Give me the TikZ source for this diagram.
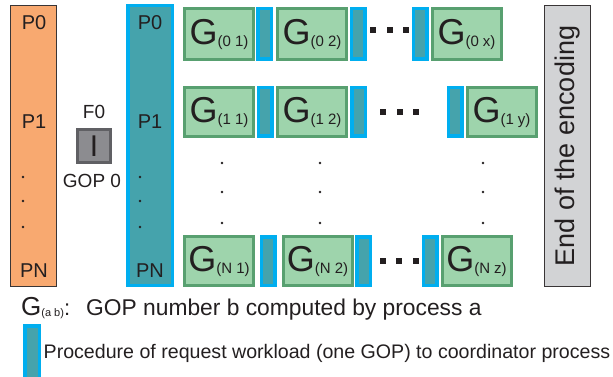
\documentclass[tikz,border=0pt]{standalone}
\usepackage{fontspec}
\setmainfont{Liberation Sans}
\usetikzlibrary{positioning}
\definecolor{ink}{RGB}{35,31,32}
\definecolor{orfill}{RGB}{248,169,112}
\definecolor{tlfill}{RGB}{69,163,172}
\definecolor{cyline}{RGB}{0,174,239}
\definecolor{gfill}{RGB}{158,212,172}
\definecolor{gline}{RGB}{88,160,112}
\definecolor{ifill}{RGB}{140,140,144}
\definecolor{iline}{RGB}{96,96,100}
\definecolor{endfill}{RGB}{210,211,213}
\newcommand{\gsub}[1]{{\fontsize{36}{36}\selectfont G}\raisebox{-2pt}{\fontsize{15}{15}\selectfont(#1)}}

\begin{document}
\begin{tikzpicture}[x=1pt,y=-1pt,
  every node/.style={text=ink},
  gbox/.style={draw=gline,fill=gfill,line width=3pt,inner sep=0pt,minimum width=69pt,minimum height=#1},
  gbox/.default=49pt,
  reqbar/.style={draw=cyline,fill=tlfill,line width=3.5pt,inner sep=0pt,minimum width=13.5pt,minimum height=#1},
  reqbar/.default=48.5pt,
  plabel/.style={anchor=base,inner sep=0pt,font=\fontsize{20}{24}\selectfont},
  flabel/.style={anchor=base,inner sep=0pt,font=\fontsize{19}{23}\selectfont}]
\useasboundingbox (0,0) rectangle (613,377);
% process columns
\node[draw=ink!90,fill=orfill,line width=1.2pt,inner sep=0pt,minimum width=45.8pt,minimum height=280.8pt] (orbar) at (33.5,146) {};
\node[draw=cyline,fill=tlfill,line width=3.5pt,inner sep=0pt,minimum width=44.5pt,minimum height=279.5pt] (tlbar) at (150,145.5) {};
\foreach \x/\c in {34/or,150/tl}{
  \node[plabel] (\c0) at (\x,30) {P0};
  \node[plabel] (\c1) at (\x,129) {P1};
  \node[plabel] (\c N) at (\x,277) {PN};
}
\foreach \x in {23,140}
  \foreach \y in {177,201,227}
    \fill[ink] (\x,\y) circle (1.3pt);
% first frame
\node[draw=iline,fill=ifill,line width=3pt,inner sep=0pt,minimum size=33pt,font=\fontsize{30}{30}\selectfont] (ifr) at (94,146) {I};
\node[flabel] (f0) at (94,118.5) {F0};
\node[flabel] (gop0) at (92,187.5) {GOP 0};
% row 0
\node[gbox=51pt] (g01) at (219,34) {\gsub{0 1}};
\node[reqbar=50.5pt] (r01) at (264.5,34) {};
\node[gbox=51pt] (g02) at (312,34) {\gsub{0 2}};
\node[reqbar=50.5pt] (r02) at (358,34) {};
\node[reqbar=50.5pt] (r0x) at (420,34) {};
\node[gbox=51pt] (g0x) at (466.5,34) {\gsub{0 x}};
% row 1
\node[gbox] (g11) at (219,112) {\gsub{1 1}};
\node[reqbar] (r11) at (265,112) {};
\node[gbox] (g12) at (312,112) {\gsub{1 2}};
\node[reqbar] (r12) at (358.5,112) {};
\node[reqbar] (r1y) at (455,112) {};
\node[gbox] (g1y) at (501.5,112) {\gsub{1 y}};
% row N
\node[gbox] (gN1) at (219,261) {\gsub{N 1}};
\node[reqbar] (rN1) at (268,261) {};
\node[gbox] (gN2) at (317.5,261) {\gsub{N 2}};
\node[reqbar] (rN2) at (363.5,261) {};
\node[reqbar] (rNz) at (430,261) {};
\node[gbox] (gNz) at (476.5,261) {\gsub{N z}};
% ellipses
\foreach \x/\y in {373/30,390/30,406/30,383/112,400/112,416/112,383/261,399/261,416/261}
  \fill[ink] (\x-3.4,\y-3.4) rectangle ++(6.8,6.8);
\foreach \x in {222,320,483}
  \foreach \y in {163,192,223}
    \fill[ink] (\x,\y) circle (1.3pt);
% end of the encoding
\node[draw=ink!90,fill=endfill,line width=1.2pt,inner sep=0pt,minimum width=280.8pt,minimum height=45.8pt,rotate=90,font=\fontsize{27}{30}\selectfont] (endenc) at (567.5,146) {End of the encoding};
% legend
\node[anchor=base west,inner sep=0pt] (keyg) at (21,315) {{\fontsize{26}{26}\selectfont G}\raisebox{-1pt}{\fontsize{11}{11}\selectfont(a b)}{\fontsize{22}{22}\selectfont:}};
\node[anchor=base west,inner sep=0pt,font=\fontsize{22.8}{26}\selectfont] (keytxt) at (86,315) {GOP number b computed by process a};
\node[reqbar=52.5pt,minimum width=14.5pt] (keybar) at (32,352) {};
\node[anchor=base west,inner sep=0pt,font=\fontsize{19.6}{23}\selectfont] (keyreq) at (43.5,358) {Procedure of request workload (one GOP) to coordinator process};
\end{tikzpicture}
\end{document}
